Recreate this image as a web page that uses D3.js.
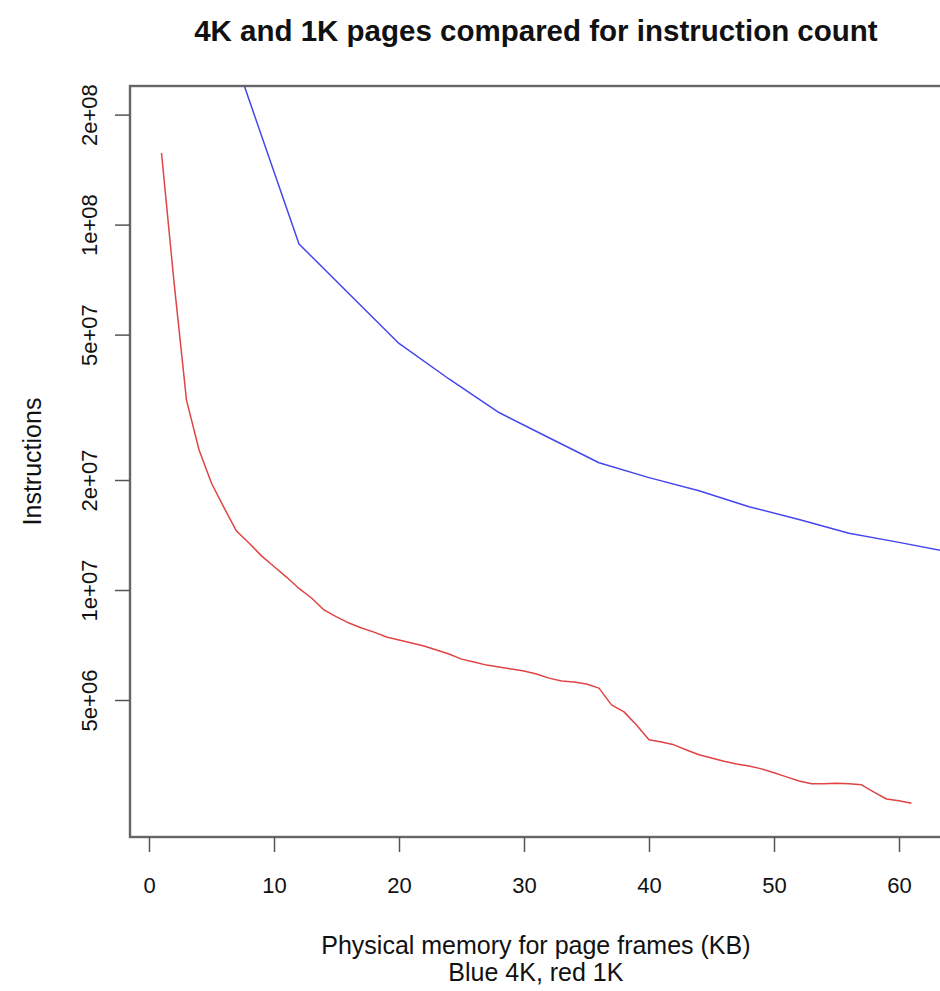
<!DOCTYPE html>
<html>
<head>
<meta charset="utf-8">
<script src="https://cdn.jsdelivr.net/npm/d3@7"></script>
<style>
  body { margin: 0; background: #fff; }
  text { font-family: "Liberation Sans", Arial, sans-serif; fill: #111; }
</style>
</head>
<body>
<div id="chart"></div>
<script>
// 4K pages (blue) - frames of physical memory in KB
const frames4k = [4, 8, 12, 16, 20, 24, 28, 32, 36, 40, 44, 48, 52, 56, 60, 64];
const instr4k = [5.49e8, 2.2e8, 8.85e7, 6.47e7, 4.73e7, 3.78e7, 3.06e7, 2.61e7, 2.23e7, 2.03e7,
  1.87e7, 1.69e7, 1.56e7, 1.43e7, 1.35e7, 1.27e7];

// 1K pages (red)
const frames1k = d3.range(1, 62);
const instr1k = [1.57e8, 6.97e7, 3.31e7, 2.42e7, 1.96e7, 1.68e7, 1.45e7, 1.345e7, 1.24e7, 1.16e7,
  1.085e7, 1.01e7, 9.51e6, 8.82e6, 8.44e6, 8.12e6, 7.87e6, 7.67e6, 7.44e6, 7.30e6,
  7.16e6, 7.03e6, 6.85e6, 6.68e6, 6.47e6, 6.35e6, 6.23e6, 6.16e6, 6.08e6, 6.00e6,
  5.89e6, 5.74e6, 5.64e6, 5.60e6, 5.53e6, 5.39e6, 4.85e6, 4.64e6, 4.27e6, 3.89e6,
  3.84e6, 3.77e6, 3.65e6, 3.54e6, 3.47e6, 3.40e6, 3.34e6, 3.30e6, 3.24e6, 3.16e6,
  3.08e6, 3.00e6, 2.95e6, 2.95e6, 2.96e6, 2.95e6, 2.93e6, 2.80e6, 2.68e6, 2.65e6, 2.61e6];

const xTicks = [0, 10, 20, 30, 40, 50, 60];
const yTicks = [5e6, 1e7, 2e7, 5e7, 1e8, 2e8];
const yTickLabels = ['5e+06', '1e+07', '2e+07', '5e+07', '1e+08', '2e+08'];

const W = 940, H = 991;
const plot = { left: 130, top: 86, bottom: 837 };

const svg = d3.select('#chart')
  .append('svg')
  .attr('width', W)
  .attr('height', H);

const x = d3.scaleLinear()
  .domain([-1.52, 66.52])
  .range([plot.left, plot.left + 68.04 * 12.5]);

const y = d3.scaleLog()
  .domain([2.109e6, 2.395e8])
  .range([plot.bottom, plot.top]);

svg.append('clipPath')
  .attr('id', 'clip')
  .append('rect')
  .attr('x', plot.left)
  .attr('y', plot.top)
  .attr('width', x.range()[1] - plot.left)
  .attr('height', plot.bottom - plot.top);

const line = d3.line()
  .x(d => x(d[0]))
  .y(d => y(d[1]));

const series = [
  { xs: frames4k, ys: instr4k, color: '#4646ee' },
  { xs: frames1k, ys: instr1k, color: '#e04444' }
];

svg.append('g')
  .attr('clip-path', 'url(#clip)')
  .selectAll('path')
  .data(series)
  .enter()
  .append('path')
  .attr('d', s => line(d3.zip(s.xs, s.ys)))
  .attr('fill', 'none')
  .attr('stroke', s => s.color)
  .attr('stroke-width', 1.5)
  .attr('stroke-linejoin', 'round');

// box
svg.append('rect')
  .attr('x', plot.left)
  .attr('y', plot.top)
  .attr('width', x.range()[1] - plot.left)
  .attr('height', plot.bottom - plot.top)
  .attr('fill', 'none')
  .attr('stroke', '#666')
  .attr('stroke-width', 2.4);

// x axis (R style, detached)
const xAxis = svg.append('g')
  .attr('transform', `translate(0,${plot.bottom})`)
  .call(d3.axisBottom(x).tickValues(xTicks).tickSize(15).tickPadding(25).tickFormat(d3.format('d')));
xAxis.select('.domain').remove();
xAxis.selectAll('line').attr('stroke', '#555').attr('stroke-width', 1.5);
xAxis.selectAll('text')
  .style('font-size', '22px')
  .attr('fill', '#111');

// y axis with rotated labels
const yAxis = svg.append('g')
  .attr('transform', `translate(${plot.left},0)`)
  .call(d3.axisLeft(y).tickValues(yTicks).tickSize(15).tickFormat((d, i) => yTickLabels[i]));
yAxis.select('.domain').remove();
yAxis.selectAll('line').attr('stroke', '#555').attr('stroke-width', 1.5);
yAxis.selectAll('text')
  .attr('x', 0)
  .attr('dy', null)
  .attr('transform', 'translate(-33,0) rotate(-90)')
  .attr('text-anchor', 'middle')
  .style('font-size', '22px')
  .attr('fill', '#111');

const cx = (plot.left + 941.8) / 2;

svg.append('text')
  .text('4K and 1K pages compared for instruction count')
  .attr('x', cx)
  .attr('y', 41)
  .attr('text-anchor', 'middle')
  .style('font-size', '29.5px')
  .style('font-weight', 'bold');

svg.append('text')
  .text('Physical memory for page frames (KB)')
  .attr('x', cx)
  .attr('y', 954)
  .attr('text-anchor', 'middle')
  .style('font-size', '25px');

svg.append('text')
  .text('Blue 4K, red 1K')
  .attr('x', cx)
  .attr('y', 981)
  .attr('text-anchor', 'middle')
  .style('font-size', '25px');

svg.append('text')
  .text('Instructions')
  .attr('transform', `translate(41,${(plot.top + plot.bottom) / 2}) rotate(-90)`)
  .attr('text-anchor', 'middle')
  .style('font-size', '25px');
</script>
</body>
</html>
